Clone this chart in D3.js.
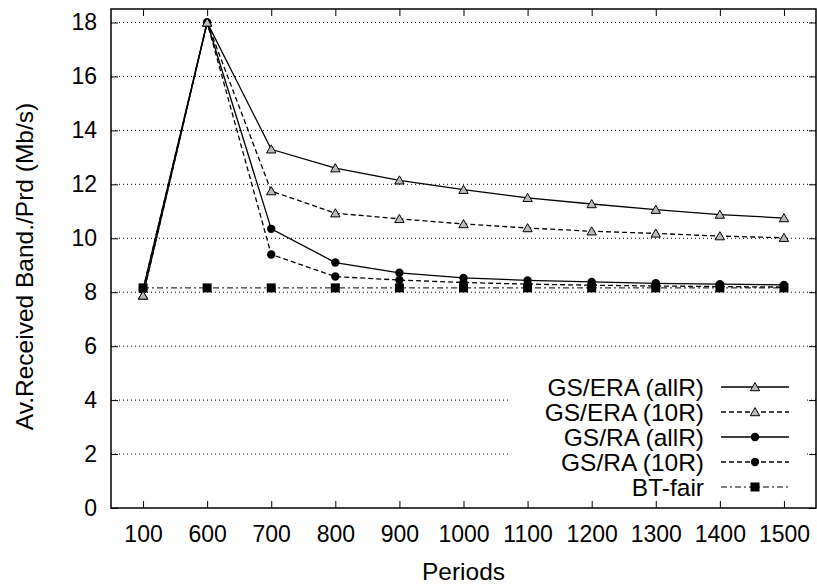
<!DOCTYPE html>
<html><head><meta charset="utf-8">
<script src="https://cdn.jsdelivr.net/npm/d3@7"></script>
<style>body{margin:0;background:#fff}svg{display:block}text{font-family:"Liberation Sans",Arial,sans-serif}</style>
</head><body><svg id="c" width="817" height="584"></svg>
<script>
const periods = ["100","600","700","800","900","1000","1100","1200","1300","1400","1500"];
const yTicks = [0,2,4,6,8,10,12,14,16,18];
const gsEraAll = [7.88,18,13.3,12.6,12.15,11.8,11.5,11.27,11.06,10.88,10.75];
const gsEra10 = [7.88,18,11.75,10.93,10.72,10.53,10.38,10.26,10.18,10.08,10.02];
const gsRaAll = [8.1,18,10.35,9.1,8.72,8.53,8.44,8.38,8.33,8.3,8.27];
const gsRa10 = [8.1,18,9.4,8.58,8.45,8.36,8.3,8.26,8.23,8.21,8.19];
const btFair = [8.16,8.16,8.16,8.16,8.16,8.16,8.16,8.16,8.16,8.16,8.16];
const seriesNames = ["GS/ERA (allR)","GS/ERA (10R)","GS/RA (allR)","GS/RA (10R)","BT-fair"];

const series = [
  {name:seriesNames[0], values:gsEraAll, dash:null, marker:"tri"},
  {name:seriesNames[1], values:gsEra10, dash:"5,3", marker:"tri"},
  {name:seriesNames[2], values:gsRaAll, dash:null, marker:"circ"},
  {name:seriesNames[3], values:gsRa10, dash:"5,3", marker:"circ"},
  {name:seriesNames[4], values:btFair, dash:"6,3,2,3", marker:"sq"}
];

const svg = d3.select("#c");
const L=111, R=816, T=9, B=508;
const x = d3.scalePoint().domain(periods).range([L,R]).padding(0.5);
const y = d3.scaleLinear().domain([0,18.5]).range([B,T]);
const fsTick = 23, fsText = 24.5;

// gridlines
svg.append("g").selectAll("line").data(yTicks.filter(d=>d>0)).join("line")
  .attr("x1",L).attr("x2",R).attr("y1",d=>y(d)).attr("y2",d=>y(d))
  .attr("stroke","#000").attr("stroke-width",1).attr("stroke-dasharray","1,3");

// axes
const ax = svg.append("g").attr("transform",`translate(0,${B})`)
  .call(d3.axisBottom(x).tickSize(-7).tickPadding(17.7));
const axT = svg.append("g").attr("transform",`translate(0,${T})`)
  .call(d3.axisTop(x).tickSize(-7).tickFormat(""));
const ay = svg.append("g").attr("transform",`translate(${L},0)`)
  .call(d3.axisLeft(y).tickValues(yTicks).tickSize(-7).tickPadding(14));
const ayR = svg.append("g").attr("transform",`translate(${R},0)`)
  .call(d3.axisRight(y).tickValues(yTicks).tickSize(-7).tickFormat(""));
[ax,axT,ay,ayR].forEach(g=>{
  g.select(".domain").remove();
  g.selectAll(".tick line").attr("stroke","#000").attr("stroke-width",1);
  g.selectAll("text").attr("font-size",fsTick).attr("fill","#000").attr("font-family","Liberation Sans, Arial, sans-serif");
});
// frame
svg.append("rect").attr("x",L).attr("y",T).attr("width",R-L).attr("height",B-T)
  .attr("fill","none").attr("stroke","#000").attr("stroke-width",1.5);

// legend box (opaque)
const legRows = [387,412,437,462,487];
svg.append("rect").attr("x",508).attr("y",372).attr("width",297).attr("height",129).attr("fill","#fff");

const line = d3.line().x((d,i)=>x(periods[i])).y(d=>y(d));
function marker(g, type, cx, cy){
  if(type==="tri"){
    g.append("path").attr("d",d3.symbol(d3.symbolTriangle,38)()).attr("transform",`translate(${cx},${cy+1})`)
      .attr("fill","#bbb").attr("stroke","#000").attr("stroke-width",1);
  } else if(type==="circ"){
    g.append("circle").attr("cx",cx).attr("cy",cy).attr("r",4.2).attr("fill","#000");
  } else {
    g.append("rect").attr("x",cx-4.5).attr("y",cy-4.5).attr("width",9).attr("height",9).attr("fill","#000");
  }
}
series.slice().reverse().forEach(s=>{
  const g = svg.append("g");
  g.append("path").datum(s.values).attr("d",line).attr("fill","none")
    .attr("stroke","#000").attr("stroke-width",s.marker==="sq"?1:1.3)
    .attr("stroke-dasharray",s.dash);
  s.values.forEach((v,i)=>marker(g,s.marker,x(periods[i]),y(v)));
});

// legend
series.forEach((s,i)=>{
  const yy = legRows[i];
  const g = svg.append("g");
  g.append("text").attr("x",704).attr("y",yy).attr("dy","0.35em").attr("text-anchor","end")
    .attr("font-size",fsText).text(s.name);
  g.append("line").attr("x1",721).attr("x2",789).attr("y1",yy).attr("y2",yy)
    .attr("stroke","#000").attr("stroke-width",s.marker==="sq"?1:1.3).attr("stroke-dasharray",s.dash);
  marker(g,s.marker,755,yy);
});

// axis titles
svg.append("text").attr("x",(L+R)/2).attr("y",580).attr("text-anchor","middle").attr("font-size",fsText).text("Periods");
svg.append("text").attr("transform",`translate(33,${(T+B)/2 + 8}) rotate(-90)`).attr("text-anchor","middle")
  .attr("font-size",fsText).text("Av.Received Band./Prd (Mb/s)");
</script></body></html>
